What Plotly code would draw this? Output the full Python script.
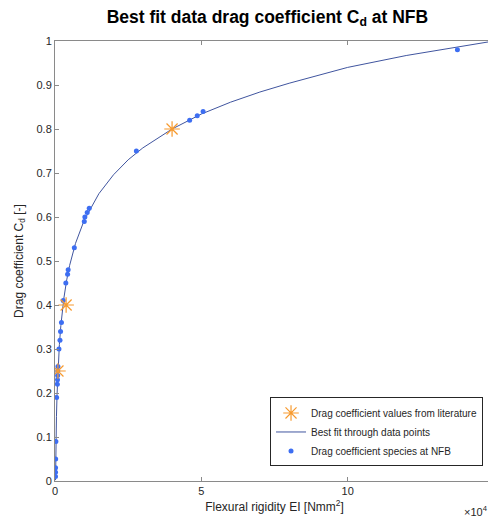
import plotly.graph_objects as go

# Literature drag coefficients (EI in Nmm^2, Cd)
lit_ei = [1000, 3800, 40000]
lit_cd = [0.25, 0.40, 0.80]

# Species at NFB
nfb_ei = [170, 180, 190, 230, 300, 550, 800, 850, 900, 950, 1000, 1350, 1700, 1900, 2200,
          2800, 3700, 4300, 4500, 6600, 10000, 10200, 11000, 11700, 27800, 46000, 48600,
          50600, 137500]
nfb_cd = [0.01, 0.02, 0.03, 0.05, 0.09, 0.19, 0.22, 0.23, 0.24, 0.25, 0.26, 0.30, 0.32,
          0.34, 0.36, 0.41, 0.45, 0.47, 0.48, 0.53, 0.59, 0.60, 0.61, 0.62, 0.75, 0.82,
          0.83, 0.84, 0.98]

# Best fit curve
fit_ei = [190, 200, 250, 300, 400, 500, 700, 1000, 1500, 2000, 3000, 4000, 5000, 7000,
          10000, 15000, 20000, 25000, 30000, 40000, 50000, 60000, 70000, 80000, 100000,
          120000, 150000]
fit_cd = [0.002, 0.010, 0.043, 0.071, 0.113, 0.147, 0.197, 0.250, 0.310, 0.353, 0.414,
          0.457, 0.490, 0.540, 0.593, 0.653, 0.696, 0.730, 0.757, 0.800, 0.834, 0.861,
          0.884, 0.904, 0.940, 0.967, 1.000]

x_tickvals = [0, 50000, 100000, 150000]
x_ticktext = ["0", "5", "10", "15"]

FONT = "Liberation Sans, Arial, sans-serif"
TXT = "#262626"
AXC = "#8a8a8a"

fig = go.Figure()
fig.add_trace(go.Scatter(
    x=fit_ei, y=fit_cd, mode="lines", name="Best fit through data points",
    line=dict(color="#40559f", width=1), legendrank=2))
fig.add_trace(go.Scatter(
    x=nfb_ei, y=nfb_cd, mode="markers", name="Drag coefficient species at NFB",
    marker=dict(color="#3d6ef2", size=5), legendrank=3))
fig.add_trace(go.Scatter(
    x=lit_ei, y=lit_cd, mode="markers", name="Drag coefficient values from literature",
    marker=dict(symbol="asterisk-open", color="#f79a2e", size=13,
                line=dict(color="#f79a2e", width=1.2)), legendrank=1))

fig.update_layout(
    width=496, height=526,
    margin=dict(l=47, r=10, t=33, b=53, autoexpand=False),
    paper_bgcolor="white", plot_bgcolor="white",
    font=dict(family=FONT, size=11, color=TXT),
    title=dict(text="<b>Best fit data drag coefficient C<sub>d</sub> at NFB</b>",
               x=0.523, xanchor="center", y=0.984, yanchor="middle",
               font=dict(size=17.5, color="black"), automargin=False),
    showlegend=True,
    legend=dict(x=0.975, xanchor="right", y=0.033, yanchor="bottom",
                bgcolor="white", bordercolor="#262626", borderwidth=1,
                font=dict(size=10, color=TXT), traceorder="normal",
                tracegroupgap=0, itemwidth=30),
)
fig.update_xaxes(
    range=[0, 150000], tickvals=x_tickvals, ticktext=x_ticktext, automargin=False,
    showgrid=False, zeroline=False, showline=True, linecolor=AXC, linewidth=1,
    mirror="ticks", ticks="inside", ticklen=4, tickcolor=AXC,
    tickfont=dict(size=11, color=TXT),
    title=dict(text="Flexural rigidity EI [Nmm<sup>2</sup>]", font=dict(size=12, color=TXT),
               standoff=6),
)
fig.update_yaxes(
    range=[0, 1], dtick=0.1, tick0=0, automargin=False,
    showgrid=False, zeroline=False, showline=True, linecolor=AXC, linewidth=1,
    mirror="ticks", ticks="inside", ticklen=4, tickcolor=AXC,
    tickfont=dict(size=11, color=TXT),
    title=dict(text="Drag coefficient C<sub>d</sub> [-]", font=dict(size=12, color=TXT),
               standoff=10),
)
fig.add_annotation(text="\u00d710<sup>4</sup>", xref="paper", yref="paper",
                   x=0.991, y=-0.048, xanchor="right", yanchor="top", showarrow=False,
                   font=dict(size=11, color=TXT))

fig.write_html("out.html")
